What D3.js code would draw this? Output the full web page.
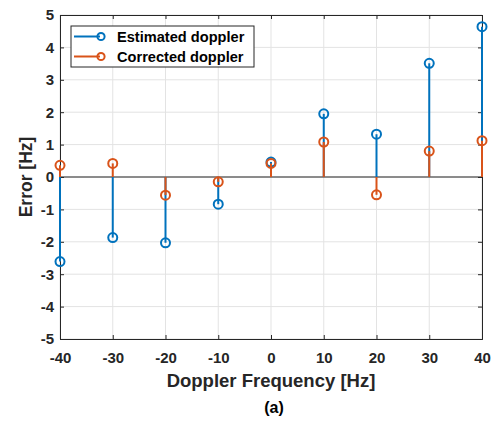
<!DOCTYPE html>
<html><head><meta charset="utf-8">
<script src="https://cdn.jsdelivr.net/npm/d3@7"></script>
<style>body{margin:0;background:#fff;} text{font-family:Arial,"Liberation Sans",sans-serif;}</style>
</head><body>
<svg id="c" width="496" height="423"></svg>
<script>
const freqs = [-40,-30,-20,-10,0,10,20,30,40];
const estimated = [-2.61,-1.87,-2.03,-0.84,0.46,1.95,1.32,3.51,4.64];
const corrected = [0.36,0.42,-0.56,-0.15,0.42,1.08,-0.55,0.80,1.12];
const xTicks = [-40,-30,-20,-10,0,10,20,30,40];
const yTicks = [-5,-4,-3,-2,-1,0,1,2,3,4,5];
const seriesNames = ["Estimated doppler","Corrected doppler"];
const colors = ["#0072BD","#D95319"];

const svg = d3.select("#c");
const L=60, R=482, T=15, B=339;
const x = d3.scaleLinear().domain([-40,40]).range([L,R]);
const y = d3.scaleLinear().domain([-5,5]).range([B,T]);
const axCol = "#262626";
const fmt = d => String(d);

// grid
const g = svg.append("g");
g.selectAll(".gx").data(xTicks).enter().append("line")
 .attr("x1",d=>x(d)).attr("x2",d=>x(d)).attr("y1",T).attr("y2",B)
 .attr("stroke","#e3e3e3").attr("stroke-width",1);
g.selectAll(".gy").data(yTicks).enter().append("line")
 .attr("y1",d=>y(d)).attr("y2",d=>y(d)).attr("x1",L).attr("x2",R)
 .attr("stroke","#e3e3e3").attr("stroke-width",1);

// axes
const xa = svg.append("g").attr("transform",`translate(0,${B})`)
 .call(d3.axisBottom(x).tickValues(xTicks).tickSize(-4).tickPadding(10).tickFormat(fmt));
const xt = svg.append("g").attr("transform",`translate(0,${T})`)
 .call(d3.axisTop(x).tickValues(xTicks).tickSize(-4).tickFormat(""));
const ya = svg.append("g").attr("transform",`translate(${L},0)`)
 .call(d3.axisLeft(y).tickValues(yTicks).tickSize(-4).tickPadding(6).tickFormat(fmt));
const yr = svg.append("g").attr("transform",`translate(${R},0)`)
 .call(d3.axisRight(y).tickValues(yTicks).tickSize(-4).tickFormat(""));
[xa,xt,ya,yr].forEach(a=>{
  a.select(".domain").attr("stroke",axCol).attr("stroke-width",1);
  a.selectAll(".tick line").attr("stroke",axCol);
  a.selectAll(".tick text").attr("fill",axCol).attr("font-size",15).attr("font-weight","bold");
});
xa.selectAll(".tick text").attr("y",24).attr("dy",0);

// zero baseline
svg.append("line").attr("x1",L).attr("x2",R).attr("y1",y(0)).attr("y2",y(0))
 .attr("stroke",axCol).attr("stroke-width",1);

// stems
[estimated, corrected].forEach((vals,i)=>{
  const sg = svg.append("g");
  sg.selectAll("line").data(vals).enter().append("line")
   .attr("x1",(d,j)=>x(freqs[j])).attr("x2",(d,j)=>x(freqs[j]))
   .attr("y1",y(0)).attr("y2",d=>y(d))
   .attr("stroke",colors[i]).attr("stroke-width",2);
  sg.selectAll("circle").data(vals).enter().append("circle")
   .attr("cx",(d,j)=>x(freqs[j])).attr("cy",d=>y(d)).attr("r",4.5)
   .attr("fill","none").attr("stroke",colors[i]).attr("stroke-width",2);
});

// legend
const lg = svg.append("g");
lg.append("rect").attr("x",71).attr("y",26).attr("width",183).attr("height",41)
 .attr("fill","#fff").attr("stroke",axCol).attr("stroke-width",1);
seriesNames.forEach((n,i)=>{
  const yy = 36.5 + i*20;
  lg.append("line").attr("x1",74).attr("x2",100).attr("y1",yy).attr("y2",yy)
   .attr("stroke",colors[i]).attr("stroke-width",2);
  lg.append("circle").attr("cx",101).attr("cy",yy).attr("r",3.6)
   .attr("fill","none").attr("stroke",colors[i]).attr("stroke-width",2);
  lg.append("text").attr("x",117).attr("y",yy+5).text(n)
   .attr("font-size",14.6).attr("font-weight","bold").attr("fill","#000");
});

// labels
svg.append("text").attr("transform",`translate(32,${(T+B)/2}) rotate(-90)`)
 .attr("text-anchor","middle").attr("font-size",17.5).attr("font-weight","bold")
 .attr("fill",axCol).text("Error [Hz]");
svg.append("text").attr("x",(L+R)/2).attr("y",387).attr("text-anchor","middle")
 .attr("font-size",18.5).attr("font-weight","bold").attr("fill",axCol).text("Doppler Frequency [Hz]");
svg.append("text").attr("x",274).attr("y",413).attr("text-anchor","middle")
 .attr("font-size",16).attr("font-weight","bold").attr("fill","#000").text("(a)");
</script>
</body></html>
